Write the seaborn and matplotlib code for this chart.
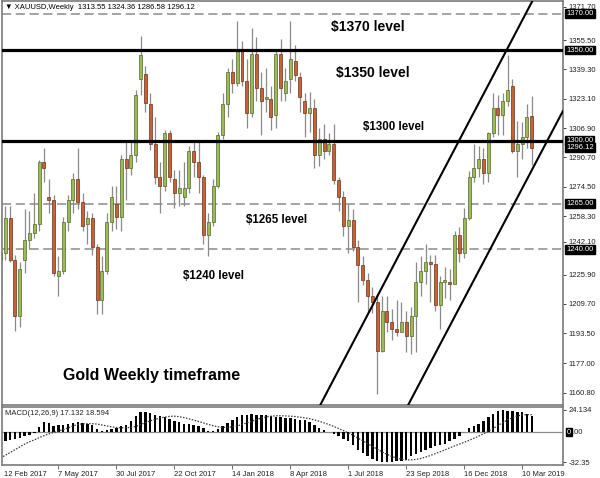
import matplotlib
matplotlib.use("Agg")
import matplotlib.pyplot as plt
import seaborn as sns
import pandas as pd

# weekly XAUUSD candles, one per week starting 12 Feb 2017
opens = [1234, 1238, 1257, 1234, 1203, 1234, 1245, 1249, 1254, 1288,
         1269, 1267, 1225, 1228, 1255, 1267, 1279, 1266, 1254, 1257,
         1241, 1212, 1228, 1255, 1265, 1258, 1290, 1285, 1292, 1334,
         1337, 1320, 1298, 1280, 1275, 1304, 1279, 1271, 1269, 1274,
         1294, 1288, 1280, 1248, 1255, 1275, 1303, 1320, 1338, 1332,
         1350, 1333, 1315, 1348, 1329, 1323, 1323, 1314, 1348, 1326,
         1334, 1344, 1335, 1322, 1315, 1318, 1292, 1301, 1294, 1298,
         1278, 1269, 1253, 1256, 1241, 1231, 1223, 1214, 1211, 1184,
         1206, 1200, 1196, 1194, 1200, 1192, 1203, 1222, 1228, 1233,
         1232, 1209, 1222, 1222, 1221, 1248, 1238, 1257, 1280, 1285,
         1290, 1282, 1304, 1318, 1314, 1322, 1330, 1294, 1298, 1302,
         1313.55]
highs = [1245, 1264, 1264, 1237, 1233, 1262, 1261, 1271, 1289, 1296,
         1279, 1270, 1236, 1258, 1270, 1282, 1296, 1271, 1261, 1260,
         1243, 1236, 1260, 1275, 1275, 1292, 1299, 1300, 1328, 1358,
         1341, 1326, 1313, 1288, 1306, 1306, 1284, 1284, 1288, 1297,
         1299, 1299, 1281, 1260, 1279, 1305, 1326, 1340, 1345, 1366,
         1355, 1345, 1362, 1357, 1338, 1340, 1330, 1350, 1356, 1340,
         1366, 1353, 1338, 1326, 1327, 1323, 1307, 1309, 1304, 1309,
         1280, 1272, 1265, 1262, 1245, 1236, 1227, 1219, 1215, 1214,
         1214, 1207, 1212, 1211, 1206, 1208, 1233, 1236, 1243, 1237,
         1237, 1225, 1230, 1229, 1250, 1252, 1263, 1283, 1298, 1297,
         1296, 1305, 1326, 1325, 1326, 1347, 1334, 1311, 1310, 1320,
         1324.36]
lows = [1216, 1234, 1233, 1195, 1197, 1227, 1240, 1246, 1250, 1277,
        1260, 1225, 1214, 1226, 1250, 1260, 1262, 1250, 1243, 1237,
        1204, 1204, 1226, 1250, 1251, 1250, 1267, 1281, 1288, 1325,
        1316, 1295, 1276, 1260, 1272, 1277, 1263, 1264, 1264, 1271,
        1280, 1271, 1243, 1236, 1253, 1274, 1301, 1313, 1326, 1330,
        1330, 1307, 1313, 1322, 1303, 1316, 1306, 1307, 1322, 1322,
        1326, 1333, 1316, 1302, 1305, 1285, 1286, 1290, 1292, 1276,
        1261, 1247, 1238, 1239, 1211, 1220, 1204, 1205, 1160, 1183,
        1194, 1190, 1192, 1194, 1183, 1182, 1183, 1214, 1221, 1211,
        1206, 1196, 1213, 1212, 1221, 1233, 1235, 1256, 1277, 1280,
        1276, 1277, 1302, 1303, 1303, 1319, 1293, 1280, 1290, 1296,
        1286.58]
closes = [1238, 1257, 1234, 1203, 1229, 1245, 1249, 1254, 1288, 1285,
          1267, 1227, 1228, 1255, 1267, 1279, 1266, 1253, 1257, 1241,
          1212, 1228, 1255, 1269, 1258, 1290, 1285, 1292, 1325, 1347,
          1321, 1298, 1280, 1275, 1304, 1280, 1271, 1274, 1274, 1294,
          1288, 1280, 1248, 1255, 1275, 1303, 1320, 1338, 1332, 1350,
          1333, 1315, 1348, 1329, 1322, 1324, 1313, 1348, 1329, 1333,
          1345, 1336, 1324, 1315, 1318, 1292, 1301, 1294, 1298, 1278,
          1269, 1253, 1256, 1241, 1231, 1223, 1214, 1211, 1184, 1206,
          1200, 1196, 1194, 1200, 1192, 1203, 1222, 1228, 1233, 1232,
          1209, 1222, 1222, 1221, 1248, 1238, 1257, 1280, 1285, 1290,
          1282, 1304, 1318, 1314, 1322, 1328, 1294, 1298, 1302, 1313,
          1296.12]

macd_main = [-15.4, -10.0, -9.0, -7.5, -6.5, -4.7, -2.9, -1.1, 5.4, 10.8,
             9.7, 6.8, 7.2, 7.9, 9.0, 9.7, 10.4, 9.7, 9.0, 7.5,
             3.2, 0.7, 1.8, 3.2, 4.7, 6.1, 7.9, 11.5, 16.8, 21.9,
             21.9, 20.4, 17.9, 16.8, 15.8, 14.3, 12.2, 10.4, 9.0, 9.0,
             7.9, 6.5, 3.9, 1.4, 0.7, 3.2, 6.1, 9.7, 13.3, 16.1,
             17.9, 18.6, 19.7, 18.6, 18.6, 17.9, 16.8, 16.5, 16.0, 15.5,
             15.0, 14.0, 13.3, 12.5, 10.4, 7.9, 4.3, 1.8, 0.3, -2.2,
             -3.9, -7.5, -10.0, -13.6, -19.0, -22.6, -26.2, -29.0, -31.5, -32.35,
             -32.3, -32.0, -31.5, -31.0, -29.7, -26.2, -23.7, -21.5, -19.0, -17.2,
             -15.4, -14.3, -12.9, -10.0, -7.5, -3.9, -0.4, 4.3, 6.8, 9.0,
             12.2, 16.1, 19.7, 22.2, 24.1, 22.9, 22.2, 21.5, 21.1, 19.0,
             17.13]
macd_signal = [-28.0, -25.0, -22.0, -19.0, -16.0, -13.0, -10.5, -8.5, -6.0, -4.0,
               -2.0, -0.5, 1.0, 2.5, 4.5, 6.5, 8.0, 8.8, 9.0, 9.0,
               8.5, 7.5, 6.5, 5.5, 4.8, 4.5, 4.5, 5.0, 6.0, 8.0,
               10.0, 12.0, 13.5, 15.0, 16.0, 16.8, 17.0, 16.5, 15.5, 14.2,
               12.8, 11.3, 9.8, 8.2, 6.8, 5.6, 5.0, 5.0, 5.5, 6.5,
               8.0, 9.8, 11.6, 13.4, 15.0, 16.2, 17.0, 17.4, 17.5, 17.3,
               17.0, 16.6, 16.0, 15.2, 14.3, 13.0, 11.5, 9.8, 8.0, 6.0,
               3.8, 1.5, -1.0, -3.6, -6.5, -9.5, -12.5, -15.5, -18.5, -21.3,
               -24.0, -26.3, -28.0, -29.3, -30.0, -30.0, -29.5, -28.5, -27.0, -25.3,
               -23.3, -21.3, -19.2, -17.0, -15.0, -13.0, -11.0, -9.0, -6.8, -4.5,
               -2.0, 0.8, 3.8, 7.0, 10.2, 13.0, 15.4, 17.3, 18.3, 18.7,
               18.594]

date_bars = [0, 12, 24, 36, 48, 60, 72, 84, 96, 108]
date_labels = ["12 Feb 2017", "7 May 2017", "30 Jul 2017", "22 Oct 2017", "14 Jan 2018",
               "8 Apr 2018", "1 Jul 2018", "23 Sep 2018", "16 Dec 2018", "10 Mar 2019"]
price_ticks = [1371.70, 1355.50, 1339.30, 1323.10, 1306.90, 1290.70, 1274.50,
               1258.30, 1242.10, 1225.90, 1209.70, 1193.50, 1177.00, 1160.80]
solid_levels = [1350, 1300]
dashed_levels = [1370, 1265, 1240]
boxed_prices = [1370.00, 1350.00, 1300.00, 1296.12, 1265.00, 1240.00]
channel_a = [(66.2, 1153.9), (110.0, 1376.5)]
channel_b = [(84.4, 1153.9), (116.5, 1316.6)]
level_texts = ["$1370 level", "$1350 level", "$1300 level", "$1265 level", "$1240 level"]
level_text_pos = [(76.1, 1362.7), (77.1, 1337.3), (81.3, 1307.5), (57.2, 1256.0), (44.2, 1225.1)]
level_text_size = [10, 10, 8.3, 8.3, 8.3]

XMIN, XMAX = 0.31, 116.46

sns.set_theme(style="white")
plt.rcParams['font.family'] = ['Liberation Sans', 'DejaVu Sans']

df = pd.DataFrame({'bar': range(len(opens)), 'open': opens, 'high': highs,
                   'low': lows, 'close': closes,
                   'macd': macd_main, 'signal': macd_signal})
df['body'] = (df['close'] - df['open']).abs().clip(lower=0.7)
df['bottom'] = df[['open', 'close']].min(axis=1)
bull = df[df['close'] >= df['open']]
bear = df[df['close'] < df['open']]

fig = plt.figure(figsize=(6.0, 4.78), dpi=100)
ax = fig.add_axes([2 / 600, 73 / 478, 561 / 600, 404 / 478])
ax_m = fig.add_axes([2 / 600, 13 / 478, 561 / 600, 58 / 478])

# --- candles ---
ax.vlines(df['bar'], df['low'], df['high'], color='#8a8a8a', lw=0.9, zorder=2)
ax.bar(bull['bar'], bull['body'], bottom=bull['bottom'], width=0.62,
       color='#9bbb59', edgecolor='#55652a', lw=0.5, zorder=3)
ax.bar(bear['bar'], bear['body'], bottom=bear['bottom'], width=0.62,
       color='#c4623a', edgecolor='#6e3218', lw=0.5, zorder=3)

# --- levels and channel ---
for lv in solid_levels:
    ax.axhline(lv, color='black', lw=2.3, zorder=5)
for lv in dashed_levels:
    ax.axhline(lv, color='#8c8c8c', lw=1.1, ls=(0, (6, 3)), zorder=1)
for p1, p2 in (channel_a, channel_b):
    ax.axline(p1, p2, color='black', lw=1.5, zorder=6)

for txt, (bx, by), fs in zip(level_texts, level_text_pos, level_text_size):
    ax.text(bx, by, txt.replace('$', r'\$'), ha='center', va='center',
            fontsize=fs, fontweight='bold', color='black', zorder=7)
ax.text(31.2, 1170.4, "Gold Weekly timeframe", ha='center', va='center',
        fontsize=11.5, fontweight='bold', color='black', zorder=7)

ax.text(0.006, 0.993, "\u25BC XAUUSD,Weekly  1313.55 1324.36 1286.58 1296.12",
        transform=ax.transAxes, ha='left', va='top', fontsize=5.5, color='black')

ax.set_xlim(XMIN, XMAX)
ax.set_ylim(1153.9, 1377.1)
# the two labels partly hidden behind the level boxes sit a little higher
tick_pos = [p + (2.1 if p in (1371.70, 1242.10) else 0) for p in price_ticks]
ax.yaxis.tick_right()
ax.set_yticks(tick_pos)
ax.set_yticklabels([f"{p:.2f}" for p in price_ticks])
ax.tick_params(axis='y', right=True, direction='out', length=2, width=0.6,
               pad=2, labelsize=5.5, colors='#222222')
ax.tick_params(axis='x', bottom=False, labelbottom=False)

ytr = ax.get_yaxis_transform()
for bp in boxed_prices:
    ax.text(1.006, bp, f"{bp:.2f}", transform=ytr, ha='left', va='center',
            fontsize=5.5, color='white', clip_on=False, zorder=8,
            bbox=dict(boxstyle='square,pad=0.12', fc='black', ec='black'))

# --- MACD pane ---
sns.barplot(data=df, x='bar', y='macd', native_scale=True, color='black',
            saturation=1, width=0.5, errorbar=None, linewidth=0, ax=ax_m)
sns.lineplot(data=df, x='bar', y='signal', color='#3a3a3a', lw=0.9,
             ls=(0, (1.2, 1.2)), ax=ax_m)
ax_m.axhline(0, color='#8c8c8c', lw=0.9, zorder=0)
ax_m.set_ylim(-35.5, 26.9)
ax_m.yaxis.tick_right()
ax_m.set_yticks([24.134, -32.35])
ax_m.set_yticklabels(["24.134", "-32.35"])
ax_m.tick_params(axis='y', right=True, direction='out', length=2, width=0.6,
                 pad=2, labelsize=5.5, colors='#222222')
mtr = ax_m.get_yaxis_transform()
ax_m.text(1.007, 0, "0", transform=mtr, ha='left', va='center', fontsize=5.5,
          color='white', clip_on=False,
          bbox=dict(boxstyle='square,pad=0.1', fc='black', ec='black'))
ax_m.text(1.016, 0, ".00", transform=mtr, ha='left', va='center', fontsize=5.5,
          color='#222222', clip_on=False)
ax_m.text(0.006, 0.95, "MACD(12,26,9) 17.132 18.594", transform=ax_m.transAxes,
          ha='left', va='top', fontsize=5.5, color='#222222')

ax_m.set_xlim(XMIN, XMAX)
ax_m.set_xticks([b for b in date_bars if b > XMIN])
ax_m.tick_params(axis='x', bottom=True, direction='out', length=3, width=0.6,
                 labelbottom=False, colors='#555555')
xtr = ax_m.get_xaxis_transform()
for b, lab in zip(date_bars, date_labels):
    ax_m.text(max(b, XMIN + 0.45), -0.1, lab, transform=xtr, ha='left', va='top',
              fontsize=5.5, color='#222222', clip_on=False)
ax_m.set_xlabel('')
ax_m.set_ylabel('')

for a in (ax, ax_m):
    for sp in a.spines.values():
        sp.set_color('#7a7a7a')
        sp.set_linewidth(1.2)

fig.savefig('out.png', dpi=100, facecolor='white')
